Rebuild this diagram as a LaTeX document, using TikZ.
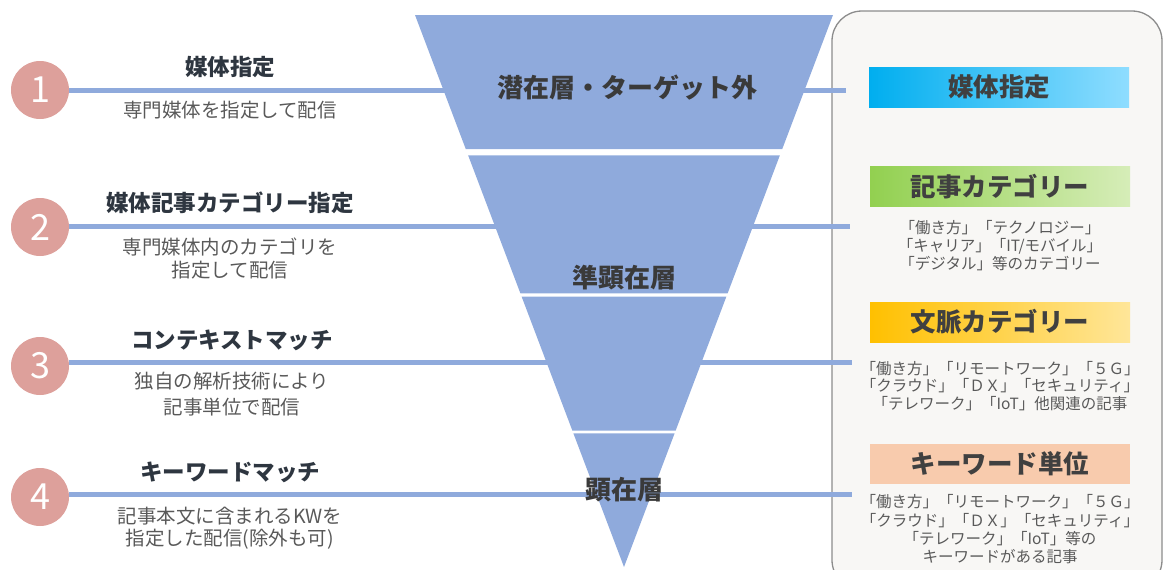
\documentclass[tikz,border=0pt]{standalone}
\usepackage{fontspec}
\setmainfont{Noto Sans CJK JP}
\usepackage{tikz}
\usetikzlibrary{calc}
\usetikzlibrary{positioning}
\definecolor{funnelblue}{HTML}{8FAADC}
\definecolor{numpink}{HTML}{DDA09B}
\definecolor{titlegray}{HTML}{2E3640}
\definecolor{subgray}{HTML}{595959}
\definecolor{layergray}{HTML}{3A3A3A}
\definecolor{panelfill}{HTML}{F8F7F5}
\definecolor{panelline}{HTML}{8C8C8C}
\definecolor{hdrtext}{HTML}{404040}
\definecolor{cyanleft}{HTML}{00AEEF}
\definecolor{cyanright}{HTML}{8FDDFF}
\definecolor{greenleft}{HTML}{92D050}
\definecolor{greenright}{HTML}{D6EDB8}
\definecolor{goldleft}{HTML}{FFC000}
\definecolor{goldright}{HTML}{FFE699}
\definecolor{peach}{HTML}{F8CBAD}

\begin{document}
\begin{tikzpicture}[x=1pt, y=-1pt,
    num/.style={circle, fill=numpink, text=white, minimum size=58pt, inner sep=0pt,
      font=\fontsize{36}{36}\selectfont},
    link/.style={funnelblue, line width=5pt},
    title/.style={text=titlegray, font=\fontsize{22.5}{26}\selectfont\bfseries},
    sub/.style={text=subgray, align=center, inner sep=0pt,
      font=\fontsize{19.5}{23.5}\selectfont},
    layer/.style={text=layergray, font=\fontsize{26}{30}\selectfont\bfseries},
    hdr/.style={minimum width=260pt, minimum height=40pt, inner sep=0pt, text=hdrtext,
      font=\fontsize{25.5}{28}\selectfont\bfseries},
    body/.style={text=subgray, align=center, inner sep=0pt,
      font=\fontsize{15.5}{18}\selectfont}]
    \useasboundingbox (0,0) rectangle (1163,570);

    % panel on the right
    \filldraw [fill=panelfill, draw=panelline, line width=1.3pt, rounded corners=30pt]
      (832,11) rectangle (1162,590);

    % right ends of the connectors
    \coordinate (r1) at (846,90);
    \coordinate (r2) at (850,226);
    \coordinate (r3) at (852,362);
    \coordinate (r4) at (852,494);

    \node [num] (c1) at (40,90) {1};
    \node [num] (c2) at (40,227) {2};
    \node [num] (c3) at (40,366) {3};
    \node [num] (c4) at (40,497) {4};

    \draw [link] (r1 -| c1.east) -- (r1);
    \draw [link] (r2 -| c2.east) -- (r2);
    \draw [link] (r3 -| c3.east) -- (r3);
    \draw [link] (r4 -| c4.east) -- (r4);

    % funnel
    \coordinate (fl) at (415,15);
    \coordinate (fr) at (833,15);
    \coordinate (fa) at (624,567);
    \fill [funnelblue] (fl) -- (fr) -- ($(fr)!0.2428!(fa)$) -- ($(fl)!0.2428!(fa)$) -- cycle;
    \fill [funnelblue] ($(fl)!0.2545!(fa)$) -- ($(fr)!0.2545!(fa)$)
      -- ($(fr)!0.5042!(fa)$) -- ($(fl)!0.5042!(fa)$) -- cycle;
    \fill [funnelblue] ($(fl)!0.5103!(fa)$) -- ($(fr)!0.5103!(fa)$)
      -- ($(fr)!0.7531!(fa)$) -- ($(fl)!0.7531!(fa)$) -- cycle;
    \fill [funnelblue] ($(fl)!0.7578!(fa)$) -- ($(fr)!0.7578!(fa)$) -- (fa) -- cycle;

    \node [layer] (l1) at (627,88) {潜在層・ターゲット外};
    \node [layer] (l2) at (624,278) {準顕在層};
    \node [layer] (l3) at (624,490) {顕在層};

    % left texts
    \node [title] (t1) at (230,67) {媒体指定};
    \node [sub] (s1) at (230,110) {専門媒体を指定して配信};
    \node [title] (t2) at (230,203) {媒体記事カテゴリー指定};
    \node [sub] (s2) at (230,258.5) {専門媒体内のカテゴリを\\指定して配信};
    \node [title] (t3) at (232,340) {コンテキストマッチ};
    \node [sub, font=\fontsize{19.5}{26}\selectfont] (s3) at (232,394) {独自の解析技術により\\記事単位で配信};
    \node [title] (t4) at (230,472) {キーワードマッチ};
    \node [sub, font=\fontsize{19.5}{22.5}\selectfont] (s4) at (230,528) {記事本文に含まれるKWを\\指定した配信(除外も可)};

    % right panel texts
    \node [hdr, left color=cyanleft, right color=cyanright] (h1) at (999,87) {媒体指定};
    \node [hdr, left color=greenleft, right color=greenright] (h2) at (1000,186.5) {記事カテゴリー};
    \node [body] (b2) at (1000,246) {「働き方」「テクノロジー」\\「キャリア」「IT/モバイル」\\「デジタル」等のカテゴリー};
    \node [hdr, left color=goldleft, right color=goldright] (h3) at (1000,322) {文脈カテゴリー};
    \node [body, font=\fontsize{15.5}{17.5}\selectfont] (b3) at (1000,386) {「働き方」「リモートワーク」「５Ｇ」\\「クラウド」「ＤＸ」「セキュリティ」\\「テレワーク」「IoT」他関連の記事};
    \node [hdr, fill=peach] (h4) at (1000,463.5) {キーワード単位};
    \node [body, font=\fontsize{15.5}{18.3}\selectfont] (b4) at (1000,529.5) {「働き方」「リモートワーク」「５Ｇ」\\「クラウド」「ＤＸ」「セキュリティ」\\「テレワーク」「IoT」等の\\キーワードがある記事};
  \end{tikzpicture}
\end{document}
